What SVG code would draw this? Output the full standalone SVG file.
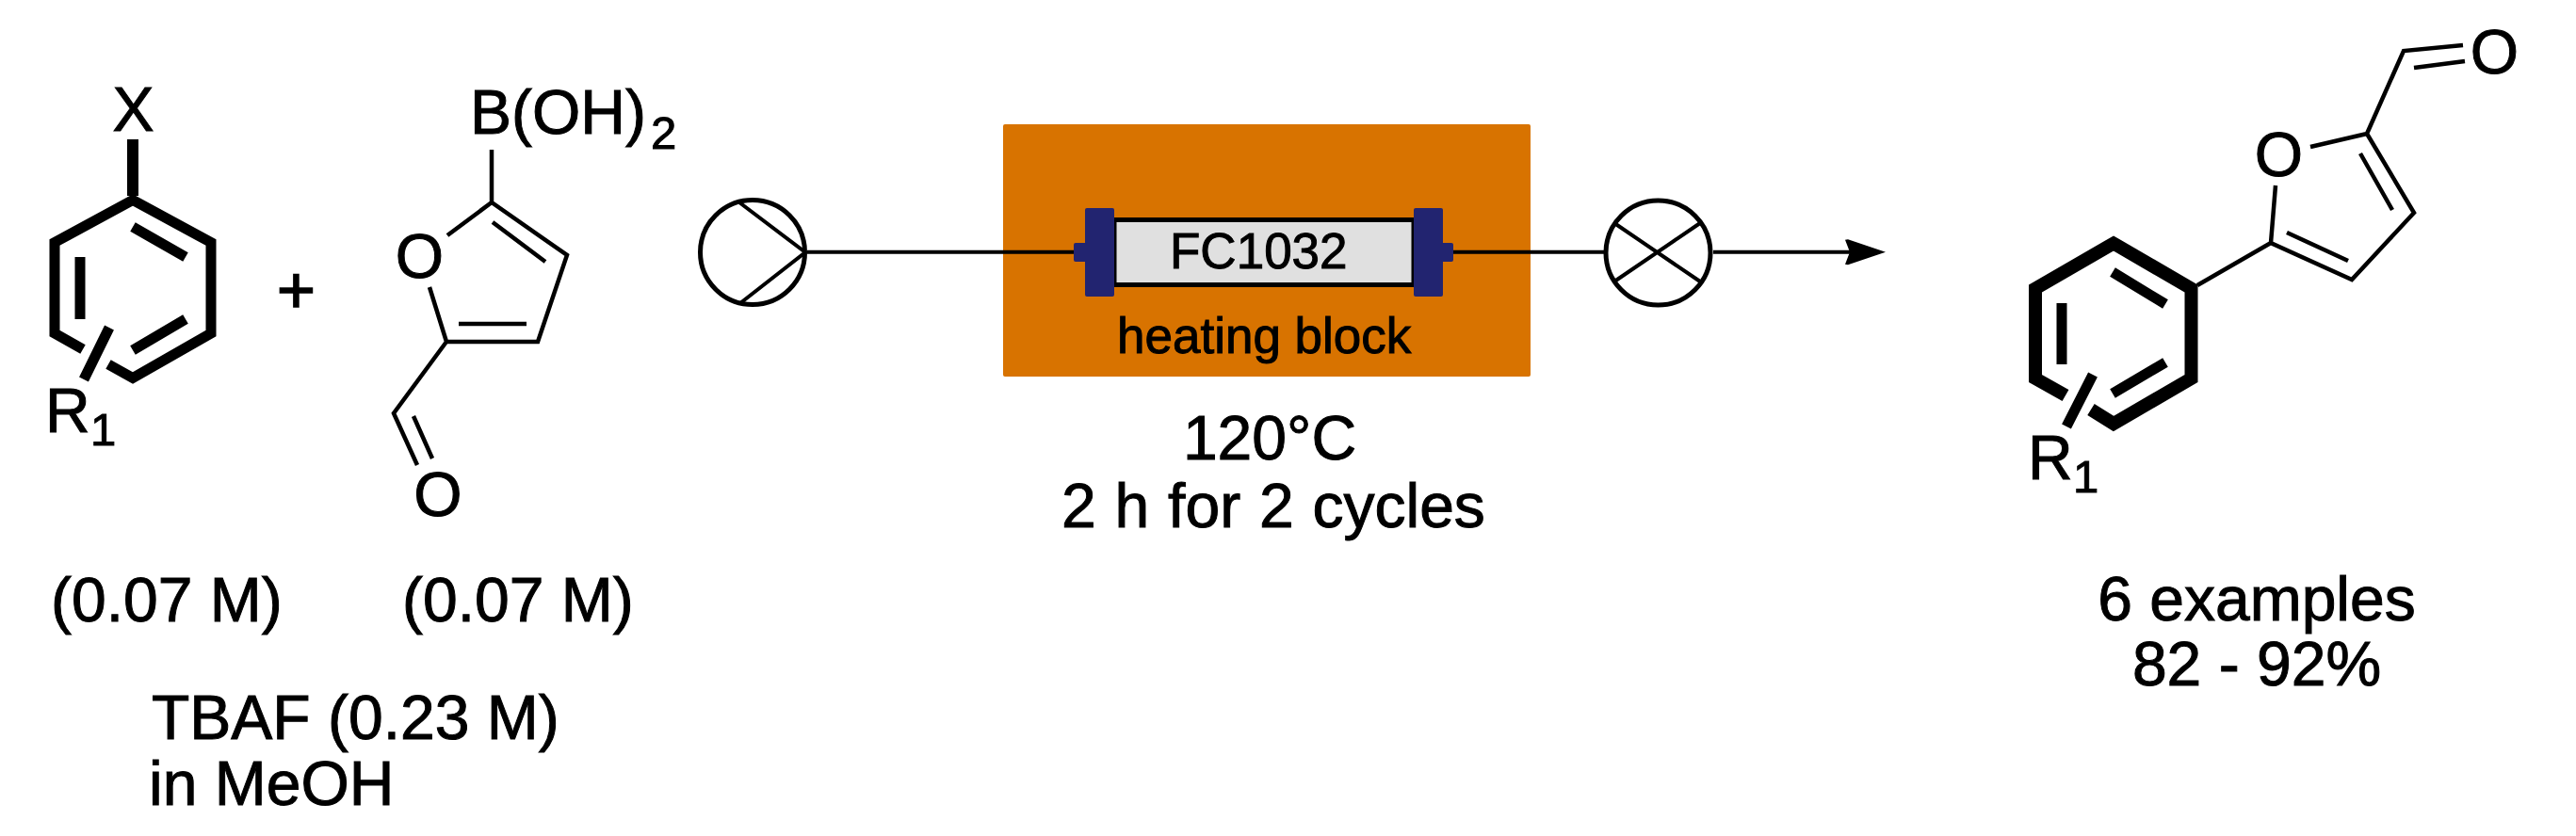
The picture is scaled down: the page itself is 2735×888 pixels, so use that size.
<svg xmlns="http://www.w3.org/2000/svg" width="2735" height="888" viewBox="0 0 2735 888">
<style>
text{font-family:"Liberation Sans",Arial,sans-serif;fill:#000;font-size:66px;stroke:#000;stroke-width:1px}
.s{font-size:49px}
.m{font-size:53px}
.c{text-anchor:middle}
.thin,.thick,.ph,.wire,.sym{fill:none;stroke:#000;stroke-linecap:butt;stroke-linejoin:miter}
.thin{stroke-width:4.5px}
.thick{stroke-width:11px}
.ph{stroke-width:14px}
.wire{stroke-width:4px}
.sym{stroke-width:4px}
.ring{fill:#fff;stroke:#000;stroke-width:5px}
.navy{fill:#222470}
</style>
<defs>
<marker id="head" markerUnits="userSpaceOnUse" markerWidth="46" markerHeight="30" refX="5" refY="15" orient="auto">
<path d="M0 2 L3 1.500 L43 15 L3 28.500 L0 28 L5 15 Z" fill="#000"/>
</marker>
</defs>
<rect width="2735" height="888" fill="#fff"/>

<g id="aryl-halide">
<text x="141.500" y="139" class="c">X</text>
<path class="thick" style="stroke-width:12px" d="M141 148V208"/>
<path class="thick" d="M88 371L58 354V257.500L141 212.500L224 257.500V354L141 401.500L115 387"/>
<path class="thick" d="M141 241L197 273M85 273V339M141 372L197 339M116 348L89 403"/>
<text x="48" y="459">R</text>
<text x="96" y="473" class="s">1</text>
</g>

<g id="plus">
<text x="314.500" y="332" class="c" style="font-size:70px;stroke-width:1.600px">+</text>
</g>

<g id="furan-boronic-acid">
<text x="499" y="142">B(OH)</text>
<text x="691" y="158" class="s">2</text>
<text x="445.500" y="295" class="c">O</text>
<text x="465" y="548" class="c">O</text>
<path class="thin" d="M522 159V215M475 250L522 215L602 271L571 363H474L456 305M523 236L579 278M487 344H559M474 363L418 439L443 494M439 442L459 487"/>
</g>

<g id="label-conc-1"><text x="54" y="660">(0.07 M)</text></g>
<g id="label-conc-2"><text x="427" y="660">(0.07 M)</text></g>
<g id="label-base">
<text x="161" y="785">TBAF (0.23 M)</text>
<text x="158" y="855">in MeOH</text>
</g>

<g id="heating-block">
<rect x="1065" y="132" width="560" height="268" rx="2" fill="#d87300"/>
<text x="1186" y="375" class="m">heating block</text>
</g>

<g id="connectors">
<path class="wire" d="M857 267.700H1142"/>
<path class="wire" d="M1542 267.700H1703"/>
<path class="wire" d="M1819 267.700H1964" marker-end="url(#head)"/>
</g>

<g id="pump">
<circle class="ring" cx="799" cy="268" r="55.500"/>
<path class="sym" d="M785 215L855 268L786 322"/>
</g>

<g id="reactor">
<rect x="1183" y="233.500" width="318" height="69" fill="#e0e0e0" stroke="#000" stroke-width="5"/>
<rect class="navy" x="1152" y="221" width="31" height="94" rx="2"/>
<rect class="navy" x="1140" y="258" width="14" height="20" rx="2"/>
<rect class="navy" x="1501" y="221" width="31" height="94" rx="2"/>
<rect class="navy" x="1530" y="258" width="13" height="20" rx="2"/>
<text x="1242" y="285" class="m">FC1032</text>
</g>

<g id="back-pressure-regulator">
<circle class="ring" cx="1760.500" cy="268.500" r="55.500"/>
<path class="sym" d="M1714 237L1805 299M1714 299L1805 237"/>
</g>

<g id="conditions">
<text x="1348" y="488" class="c">120°C</text>
<text x="1127" y="560" style="word-spacing:1.500px">2 h for 2 cycles</text>
</g>

<g id="product">
<text x="2648.500" y="78" class="c">O</text>
<text x="2419.500" y="187" class="c">O</text>
<path class="thin" d="M2615 48L2552 54L2513 142L2453 156M2563 72L2617 65M2513 142L2563 226L2497 297L2411 258L2416 197M2506 163L2540 223M2428 247L2493 277M2411 258L2333 303"/>
<path class="ph" d="M2193 420L2161 402V306.500L2244 258.500L2326.500 306.500V402L2244 450L2220 435"/>
<path class="thick" d="M2243 289L2299 323M2189 322V387M2243 418L2299 385M2222 398L2194 453"/>
<text x="2153" y="509">R</text>
<text x="2201" y="523" class="s">1</text>
</g>

<g id="label-yield">
<text x="2396" y="659" class="c">6 examples</text>
<text x="2396" y="728" class="c">82 - 92%</text>
</g>
</svg>
